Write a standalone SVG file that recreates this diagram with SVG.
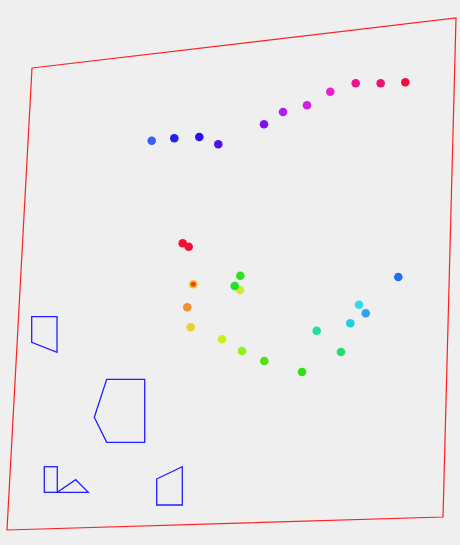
<svg xmlns="http://www.w3.org/2000/svg" width="460" height="545" viewBox="0 0 460 545">
<style>
.frame{fill:none;stroke:#ff2020;stroke-width:1.2}
.shape{fill:none;stroke:#2020ff;stroke-width:1.3}
.dot{stroke:none}
</style>
<rect width="460" height="545" fill="#efefef"/>
<polygon class="frame" points="32,68 456,18 443,517 7,530"/>
<g id="shapes">
<polygon class="shape" points="31.7,316.7 57,316.7 57,352.3 31.7,342.3"/>
<polygon class="shape" points="106.7,379.3 144.7,379.3 144.7,442.3 106.7,442.3 94.3,417.3"/>
<rect class="shape" x="44.3" y="466.7" width="13" height="25.6"/>
<polygon class="shape" points="57.3,492.3 75.7,479.7 88.3,492.3"/>
<polygon class="shape" points="156.7,479 182.3,466.7 182.3,505 156.7,505"/>
</g>
<g id="dots" class="dot">
<circle cx="151.7" cy="140.7" r="4.3" fill="#3a60f0"/>
<circle cx="174.3" cy="138.3" r="4.3" fill="#2020f0"/>
<circle cx="199.3" cy="137" r="4.3" fill="#2a10f0"/>
<circle cx="218.3" cy="144.3" r="4.3" fill="#5010f0"/>
<circle cx="264" cy="124.3" r="4.3" fill="#8010f0"/>
<circle cx="283" cy="112" r="4.3" fill="#b020e8"/>
<circle cx="307" cy="105.3" r="4.3" fill="#d020e0"/>
<circle cx="330.3" cy="91.7" r="4.3" fill="#e820c8"/>
<circle cx="355.7" cy="83.3" r="4.3" fill="#f01090"/>
<circle cx="380.7" cy="83.3" r="4.3" fill="#f01070"/>
<circle cx="405.3" cy="82.3" r="4.3" fill="#f01040"/>
<circle cx="182.7" cy="243.3" r="4.3" fill="#f01030"/>
<circle cx="188.7" cy="246.7" r="4.3" fill="#f01040"/>
<circle cx="193.3" cy="284.3" r="4.3" fill="#f0c020"/>
<circle cx="193.3" cy="284.3" r="2.5" fill="#f04010"/>
<circle cx="187.3" cy="307.3" r="4.3" fill="#f09030"/>
<circle cx="190.7" cy="327.3" r="4.3" fill="#e8d030"/>
<circle cx="222" cy="339.3" r="4.3" fill="#c8f020"/>
<circle cx="242" cy="351" r="4.3" fill="#90f020"/>
<circle cx="264.3" cy="361" r="4.3" fill="#50e010"/>
<circle cx="302" cy="372" r="4.3" fill="#30e010"/>
<circle cx="240.3" cy="275.7" r="4.3" fill="#30e020"/>
<circle cx="240" cy="290" r="4.3" fill="#d8e830"/>
<circle cx="234.7" cy="286" r="4.3" fill="#20e030"/>
<circle cx="316.7" cy="330.7" r="4.3" fill="#20e0a0"/>
<circle cx="341" cy="352" r="4.3" fill="#20e070"/>
<circle cx="350.3" cy="323.3" r="4.3" fill="#20d0e0"/>
<circle cx="359" cy="304.7" r="4.3" fill="#30d8f0"/>
<circle cx="365.7" cy="313.3" r="4.3" fill="#30a0f0"/>
<circle cx="398.3" cy="277" r="4.3" fill="#2070f0"/>
</g>
</svg>
